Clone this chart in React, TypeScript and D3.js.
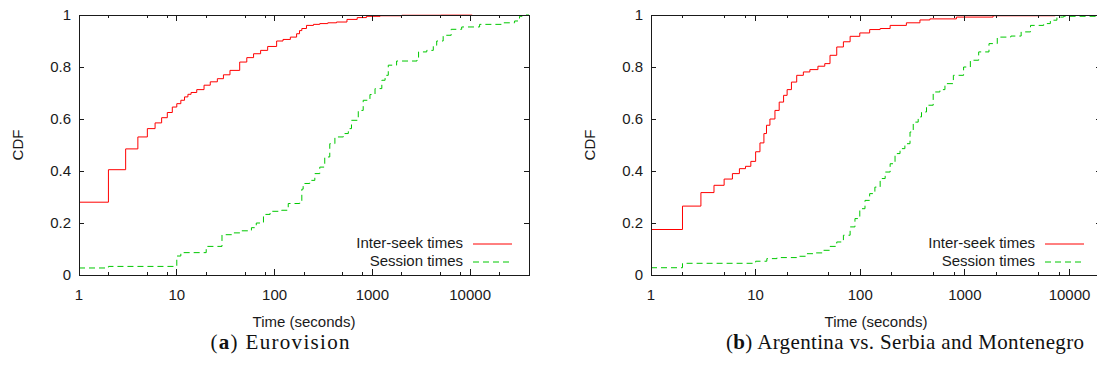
import React, { useEffect, useRef } from 'react'
import * as d3 from 'd3'

type Pt = [number, number]

// axis ticks
const xTickValues = [1, 10, 100, 1000, 10000]
const xTickLabels = ['1', '10', '100', '1000', '10000']
const xMinorSteps = [2, 5, 8]
const yTickValues = [0, 0.2, 0.4, 0.6, 0.8, 1]
const yTickLabels = ['0', '0.2', '0.4', '0.6', '0.8', '1']
const seriesNames = ['Inter-seek times', 'Session times']

// (a) Eurovision, [seconds, cdf]
const euroSeek: Pt[] = [
  [1, 0.08], [1, 0.28], [2, 0.405], [3, 0.485], [4, 0.531], [5, 0.563], [6, 0.585],
  [7, 0.605], [8, 0.625], [9, 0.646], [10, 0.659], [11, 0.672], [12, 0.685], [13, 0.695],
  [14, 0.702], [16, 0.713], [19, 0.73], [22, 0.743], [26, 0.755], [30, 0.77], [35, 0.787],
  [44, 0.819], [52, 0.836], [61, 0.851], [72, 0.864], [85, 0.879], [105, 0.9], [122, 0.906],
  [145, 0.915], [168, 0.928], [180, 0.94], [190, 0.948], [212, 0.96], [250, 0.964],
  [290, 0.967], [350, 0.97], [430, 0.973], [550, 0.983], [700, 0.99], [870, 0.995],
  [1200, 0.997], [2000, 0.999], [5000, 0.9995], [10500, 1]
]
const euroSession: Pt[] = [
  [1, 0.027], [2, 0.033], [10, 0.073], [11, 0.086], [20, 0.11], [29, 0.155], [38, 0.162],
  [45, 0.17], [58, 0.182], [65, 0.2], [77, 0.233], [90, 0.245], [118, 0.249], [138, 0.275],
  [181, 0.281], [190, 0.33], [196, 0.352], [229, 0.364], [258, 0.39], [290, 0.415],
  [326, 0.454], [367, 0.505], [414, 0.531], [505, 0.544], [568, 0.563], [612, 0.595],
  [718, 0.633], [806, 0.672], [945, 0.694], [1065, 0.717], [1250, 0.749], [1350, 0.768],
  [1455, 0.807], [1770, 0.823], [2860, 0.832], [2970, 0.858], [3600, 0.864], [4200, 0.883],
  [4550, 0.9], [5300, 0.922], [6400, 0.945], [8200, 0.954], [12500, 0.964], [21800, 0.97],
  [28500, 0.977], [32000, 0.995], [34000, 1], [40000, 1]
]

// (b) Argentina vs. Serbia and Montenegro
const argSeek: Pt[] = [
  [1, 0.057], [1, 0.175], [2, 0.265], [3, 0.317], [4, 0.345], [5, 0.369], [6, 0.39],
  [7, 0.409], [8, 0.418], [9, 0.437], [10, 0.474], [11, 0.508], [12, 0.544], [12.7, 0.576],
  [13.7, 0.6], [15.3, 0.633], [16.8, 0.665], [18.5, 0.691], [20, 0.713], [22, 0.742],
  [24.7, 0.768], [28.6, 0.781], [33, 0.79], [39.4, 0.803], [45.8, 0.813], [51.4, 0.845],
  [59.6, 0.877], [69, 0.897], [80, 0.918], [99, 0.931], [123, 0.944], [155, 0.948],
  [193, 0.96], [276, 0.97], [372, 0.981], [463, 0.985], [830, 0.992], [1860, 0.997],
  [7300, 1]
]
const argSession: Pt[] = [
  [1, 0.028], [2, 0.045], [10, 0.053], [12.8, 0.063], [16, 0.067], [24.7, 0.072],
  [30.6, 0.082], [35.6, 0.085], [44.5, 0.095], [51.4, 0.11], [59.6, 0.127], [69, 0.153],
  [80, 0.185], [89, 0.217], [99, 0.255], [111, 0.287], [123, 0.313], [138, 0.338],
  [155, 0.371], [173, 0.396], [193, 0.428], [215, 0.467], [240, 0.486], [267, 0.505],
  [299, 0.55], [321, 0.588], [358, 0.608], [385, 0.627], [430, 0.653], [498, 0.704],
  [577, 0.713], [645, 0.736], [776, 0.768], [972, 0.8], [1128, 0.826], [1355, 0.858],
  [1700, 0.89], [2040, 0.915], [2750, 0.919], [3450, 0.935], [4240, 0.96], [5660, 0.967],
  [6560, 0.98], [7580, 0.992], [8780, 0.995], [20000, 0.995]
]

const panels = [
  { id: 'a', seek: euroSeek, session: euroSession, xMax: 40000, x0: 79, x1: 529,
    letter: 'a', title: 'Eurovision', capX: 280, capW: 139 },
  { id: 'b', seek: argSeek, session: argSession, xMax: 20000, x0: 651, x1: 1101,
    letter: 'b', title: 'Argentina vs. Serbia and Montenegro', capX: 905, capW: 358 }
]

const RED = '#ff0000'
const GREEN = '#00c800'
const SANS = '"Liberation Sans", Arial, Helvetica, sans-serif'
const SERIF = '"Liberation Serif", "Times New Roman", serif'

export default function App() {
  const ref = useRef<SVGSVGElement>(null)

  useEffect(() => {
    const svg = d3.select(ref.current)
    svg.selectAll('*').remove()

    const top = 15, bottom = 275
    const y = d3.scaleLinear().domain([0, 1]).range([bottom, top])

    panels.forEach(p => {
      const x = d3.scaleLog().domain([1, p.xMax]).range([p.x0, p.x1])
      const g = svg.append('g')

      // clip for the curves
      svg.append('defs').append('clipPath').attr('id', 'clip-' + p.id)
        .append('rect').attr('x', p.x0).attr('y', top - 1)
        .attr('width', p.x1 - p.x0).attr('height', bottom - top + 2)

      const line = d3.line<Pt>()
        .x(d => x(d[0])).y(d => y(d[1]))
        .curve(d3.curveStepAfter)

      const curves = g.append('g').attr('clip-path', `url(#clip-${p.id})`)
      curves.append('path').attr('d', line(p.seek))
        .attr('fill', 'none').attr('stroke', RED).attr('stroke-width', 1)
      curves.append('path').attr('d', line(p.session))
        .attr('fill', 'none').attr('stroke', GREEN).attr('stroke-width', 1)
        .attr('stroke-dasharray', '6,4')

      // frame and ticks
      const axis = g.append('g').attr('stroke', '#1a1a1a').attr('shape-rendering', 'crispEdges')
      axis.append('rect').attr('x', p.x0).attr('y', top)
        .attr('width', p.x1 - p.x0).attr('height', bottom - top)
        .attr('fill', 'none')

      const minors: number[] = []
      xTickValues.forEach(v => xMinorSteps.forEach(m => {
        if (v * m <= p.xMax) minors.push(v * m)
      }))
      xTickValues.forEach(v => {
        axis.append('line').attr('x1', x(v)).attr('x2', x(v)).attr('y1', bottom).attr('y2', bottom - 6)
        axis.append('line').attr('x1', x(v)).attr('x2', x(v)).attr('y1', top).attr('y2', top + 6)
      })
      minors.forEach(v => {
        axis.append('line').attr('x1', x(v)).attr('x2', x(v)).attr('y1', bottom).attr('y2', bottom - 3)
        axis.append('line').attr('x1', x(v)).attr('x2', x(v)).attr('y1', top).attr('y2', top + 3)
      })
      yTickValues.forEach(v => {
        axis.append('line').attr('x1', p.x0).attr('x2', p.x0 + 5).attr('y1', y(v)).attr('y2', y(v))
        axis.append('line').attr('x1', p.x1).attr('x2', p.x1 - 5).attr('y1', y(v)).attr('y2', y(v))
      })

      const txt = g.append('g').attr('font-family', SANS).attr('font-size', 15).attr('fill', '#1a1a1a')

      xTickValues.forEach((v, i) => {
        txt.append('text').attr('x', x(v)).attr('y', 300)
          .attr('text-anchor', 'middle').text(xTickLabels[i])
      })
      yTickValues.forEach((v, i) => {
        txt.append('text').attr('x', p.x0 - 8).attr('y', y(v) + 5.3)
          .attr('text-anchor', 'end').text(yTickLabels[i])
      })

      txt.append('text').attr('x', (p.x0 + p.x1) / 2).attr('y', 327)
        .attr('text-anchor', 'middle').text('Time (seconds)')
      txt.append('text')
        .attr('transform', `translate(${p.x0 - 56},${(top + bottom) / 2}) rotate(-90)`)
        .attr('text-anchor', 'middle').text('CDF')

      // legend
      const rows = [bottom - 31, bottom - 13]
      seriesNames.forEach((name, i) => {
        txt.append('text').attr('x', p.x1 - 66).attr('y', rows[i] + 3.5)
          .attr('text-anchor', 'end').text(name)
        g.append('line').attr('x1', p.x1 - 56).attr('x2', p.x1 - 17)
          .attr('y1', rows[i]).attr('y2', rows[i])
          .attr('stroke', i === 0 ? RED : GREEN).attr('stroke-width', 1)
          .attr('stroke-dasharray', i === 0 ? null : '6,4')
      })

      // caption
      const cap = svg.append('text').attr('x', p.capX).attr('y', 349)
        .attr('text-anchor', 'middle').attr('font-family', SERIF).attr('font-size', 21)
        .attr('fill', '#111')
        .attr('textLength', p.capW).attr('lengthAdjust', 'spacing')
      cap.append('tspan').text('(')
      cap.append('tspan').attr('font-weight', 'bold').text(p.letter)
      cap.append('tspan').text(') ' + p.title)
    })
  }, [])

  return (
    <svg ref={ref} width={1097} height={370}
      style={{ position: 'absolute', left: 0, top: 0, background: '#fff' }} />
  )
}
